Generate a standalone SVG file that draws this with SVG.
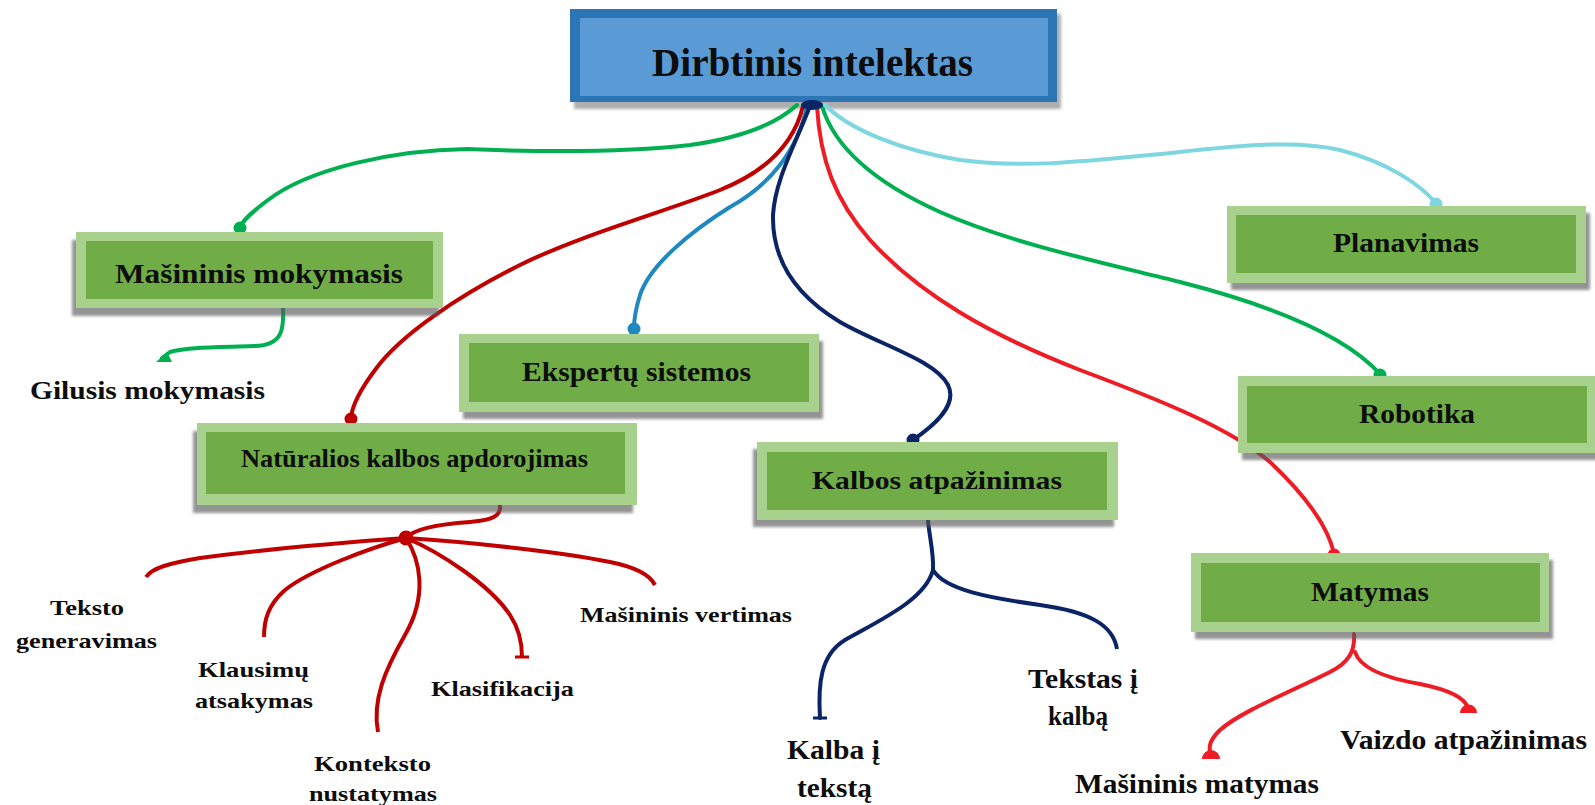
<svg xmlns="http://www.w3.org/2000/svg" width="1595" height="805" viewBox="0 0 1595 805">
  <defs>
    <filter id="soft" x="-10%" y="-20%" width="120%" height="150%">
      <feGaussianBlur stdDeviation="1.6"/>
    </filter>
    <style>
      .shadow{fill:#5a5a5a;opacity:.65;filter:url(#soft)}
      .outer{fill:#A9D18E}
      .inner{fill:#70AD47}
      .t{font-family:"Liberation Serif","Times New Roman",serif;font-weight:bold;fill:#0d0d0d;text-anchor:middle}
      .c{fill:none;stroke-width:4;stroke-linecap:round;stroke-linejoin:round}
      .sub{fill:none;stroke-width:4;stroke-linecap:butt}
      .green{stroke:#00B050}
      .dred{stroke:#C00000}
      .blue{stroke:#1E88C0}
      .navy{stroke:#0B2466}
      .red{stroke:#EE1C25}
      .cyan{stroke:#7DD6E0}
    </style>
  </defs>

  <rect width="1595" height="805" fill="#ffffff"/>

  <!-- root box comes first: the connectors leave from its lower edge -->
  <g id="root">
    <rect x="574" y="14" width="487" height="95" fill="#6d6d6d" opacity=".55" filter="url(#soft)"/>
    <rect x="570" y="9" width="487" height="93" fill="#2E75B6"/>
    <rect x="580" y="18" width="468" height="78" fill="#5B9BD5"/>
    <text class="t" x="812.5" y="76" font-size="40" textLength="321" lengthAdjust="spacingAndGlyphs">Dirbtinis intelektas</text>
  </g>

  <!-- connectors (under the topic boxes so their end dots are half covered) -->
  <g id="connectors">
    <!-- root to first-level topics -->
    <path class="c green" d="M797,105 C775,125 740,138 690,145 C620,153 540,152 467,149 C395,150 310,168 268,200 C252,212 244,219 240,227"/>
    <path class="c dred" d="M803,106 C795,140 770,170 720,190 C670,210 580,235 520,265 C460,295 400,335 375,370 C360,390 352,405 351,418"/>
    <path class="c blue" d="M807,106 C798,150 770,185 730,207 C690,232 650,265 640,295 C636,308 634,318 634,328"/>
    <path class="c navy" d="M810,106 C795,145 775,180 773,215 C772,260 795,295 840,322 C880,345 935,360 948,385 C958,405 935,425 913,440"/>
    <path class="c red" d="M817,106 C820,160 835,200 870,240 C920,295 990,335 1080,370 C1160,400 1230,428 1270,462 C1305,495 1328,525 1334,554"/>
    <path class="c green" d="M822,106 C835,150 880,185 940,212 C1010,243 1100,262 1180,282 C1270,305 1345,335 1380,374"/>
    <path class="c cyan" d="M825,105 C850,130 900,150 960,160 C1020,168 1080,162 1150,155 C1220,148 1290,138 1340,150 C1390,163 1420,185 1436,203"/>
    <ellipse cx="812" cy="105" rx="11" ry="5" fill="#0B2466"/>

    <!-- end dots on the node tops -->
    <circle cx="240" cy="228" r="6.5" fill="#00B050"/>
    <circle cx="351" cy="419" r="6.5" fill="#C00000"/>
    <circle cx="634" cy="329" r="6.5" fill="#1E88C0"/>
    <circle cx="913" cy="440" r="6.5" fill="#0B2466"/>
    <circle cx="1380" cy="375" r="6.5" fill="#00B050"/>
    <circle cx="1436" cy="204" r="6.5" fill="#7DD6E0"/>
    <circle cx="1334" cy="555" r="6.5" fill="#EE1C25"/>

    <!-- Mašininis mokymasis -> Gilusis mokymasis -->
    <path class="c green" d="M283,309 C284,330 282,345 255,346 C220,347 185,347 170,352 L162,358"/>
    <polygon points="156,362 172,362 167,352" fill="#00B050"/>

    <!-- Natūralios kalbos apdorojimas branches -->
    <path class="c dred" d="M500,505 C501,515 495,520 470,522 C440,524 415,528 406,538"/>
    <circle cx="406" cy="538" r="7.5" fill="#C00000"/>
    <path class="sub dred" d="M406,538 C350,542 260,550 200,558 C170,563 152,568 146,577"/>
    <path class="sub dred" d="M406,538 C370,548 310,570 285,590 C268,605 264,620 264,637"/>
    <path class="sub dred" d="M406,538 C420,560 428,595 405,635 C385,670 372,700 378,732"/>
    <path class="sub dred" d="M406,538 C440,552 490,585 510,615 C520,630 522,645 522,657"/>
    <line x1="515" y1="657" x2="529" y2="657" stroke="#C00000" stroke-width="3"/>
    <path class="sub dred" d="M406,538 C470,542 560,552 610,562 C635,567 650,575 655,585"/>

    <!-- Kalbos atpažinimas branches -->
    <path class="c navy" d="M928,521 C930,540 934,555 933,570 C925,600 880,620 845,640 C820,655 818,685 820,718"/>
    <line x1="813" y1="718" x2="827" y2="718" stroke="#0B2466" stroke-width="3"/>
    <path class="sub navy" d="M933,570 C945,590 990,598 1040,605 C1090,612 1113,625 1117,649"/>

    <!-- Matymas branches -->
    <path class="c red" d="M1354,634 C1355,650 1350,662 1330,672 C1290,692 1240,712 1220,730 C1210,740 1209,745 1210,752"/>
    <path d="M1202,759 A9,9 0 0 1 1220,759 Z" fill="#EE1C25"/>
    <path class="c red" d="M1355,652 C1360,668 1385,678 1420,684 C1450,690 1465,698 1468,708"/>
    <path d="M1460,713 A8.5,8.5 0 0 1 1477,713 Z" fill="#EE1C25"/>
  </g>

  <g id="masininis-mokymasis">
    <rect class="shadow" x="72" y="240" width="367" height="76"/>
    <rect class="outer" x="76" y="232" width="367" height="76"/>
    <rect class="inner" x="86" y="241" width="347" height="58"/>
    <text class="t" x="259" y="283" font-size="27" textLength="288" lengthAdjust="spacingAndGlyphs">Mašininis mokymasis</text>
  </g>

  <g id="ekspertu-sistemos">
    <rect class="shadow" x="463" y="341" width="360" height="78"/>
    <rect class="outer" x="459" y="334" width="360" height="78"/>
    <rect class="inner" x="469" y="343" width="340" height="59"/>
    <text class="t" x="636.5" y="381" font-size="27" textLength="229" lengthAdjust="spacingAndGlyphs">Ekspertų sistemos</text>
  </g>

  <g id="naturalios-kalbos-apdorojimas">
    <rect class="shadow" x="193" y="431" width="440" height="82"/>
    <rect class="outer" x="197" y="423" width="440" height="82"/>
    <rect class="inner" x="206" y="432" width="419" height="62"/>
    <text class="t" x="414.5" y="467" font-size="25" textLength="347" lengthAdjust="spacingAndGlyphs">Natūralios kalbos apdorojimas</text>
  </g>

  <g id="kalbos-atpazinimas">
    <rect class="shadow" x="753" y="449" width="361" height="78"/>
    <rect class="outer" x="757" y="442" width="361" height="78"/>
    <rect class="inner" x="767" y="452" width="340" height="58"/>
    <text class="t" x="937" y="489" font-size="26" textLength="250" lengthAdjust="spacingAndGlyphs">Kalbos atpažinimas</text>
  </g>

  <g id="planavimas">
    <rect class="shadow" x="1231" y="213" width="359" height="77"/>
    <rect class="outer" x="1227" y="206" width="359" height="77"/>
    <rect class="inner" x="1236" y="215" width="340" height="58"/>
    <text class="t" x="1406" y="252" font-size="27" textLength="146" lengthAdjust="spacingAndGlyphs">Planavimas</text>
  </g>

  <g id="robotika">
    <rect class="shadow" x="1242" y="383" width="357" height="77"/>
    <rect class="outer" x="1238" y="376" width="357" height="77"/>
    <rect class="inner" x="1247" y="386" width="340" height="57"/>
    <text class="t" x="1417" y="423" font-size="28" textLength="116" lengthAdjust="spacingAndGlyphs">Robotika</text>
  </g>

  <g id="matymas">
    <rect class="shadow" x="1195" y="560" width="358" height="79"/>
    <rect class="outer" x="1191" y="553" width="358" height="79"/>
    <rect class="inner" x="1201" y="563" width="339" height="59"/>
    <text class="t" x="1370" y="601" font-size="27" textLength="118" lengthAdjust="spacingAndGlyphs">Matymas</text>
  </g>

  <!-- leaf labels -->
  <g id="gilusis-mokymasis">
    <text class="t" x="147.5" y="399" font-size="26" textLength="235" lengthAdjust="spacingAndGlyphs">Gilusis mokymasis</text>
  </g>
  <g id="teksto-generavimas">
    <text class="t" x="87" y="615" font-size="22" textLength="74" lengthAdjust="spacingAndGlyphs">Teksto</text>
    <text class="t" x="86.5" y="648" font-size="22" textLength="141" lengthAdjust="spacingAndGlyphs">generavimas</text>
  </g>
  <g id="klausimu-atsakymas">
    <text class="t" x="253.5" y="677" font-size="22" textLength="111" lengthAdjust="spacingAndGlyphs">Klausimų</text>
    <text class="t" x="254" y="708" font-size="22" textLength="118" lengthAdjust="spacingAndGlyphs">atsakymas</text>
  </g>
  <g id="konteksto-nustatymas">
    <text class="t" x="372.5" y="771" font-size="22" textLength="117" lengthAdjust="spacingAndGlyphs">Konteksto</text>
    <text class="t" x="373" y="801" font-size="22" textLength="128" lengthAdjust="spacingAndGlyphs">nustatymas</text>
  </g>
  <g id="klasifikacija">
    <text class="t" x="502.5" y="696" font-size="22" textLength="143" lengthAdjust="spacingAndGlyphs">Klasifikacija</text>
  </g>
  <g id="masininis-vertimas">
    <text class="t" x="686" y="622" font-size="22" textLength="212" lengthAdjust="spacingAndGlyphs">Mašininis vertimas</text>
  </g>
  <g id="kalba-i-teksta">
    <text class="t" x="833.5" y="759" font-size="27" textLength="93" lengthAdjust="spacingAndGlyphs">Kalba į</text>
    <text class="t" x="834.5" y="797" font-size="27" textLength="75" lengthAdjust="spacingAndGlyphs">tekstą</text>
  </g>
  <g id="tekstas-i-kalba">
    <text class="t" x="1083" y="688" font-size="27" textLength="110" lengthAdjust="spacingAndGlyphs">Tekstas į</text>
    <text class="t" x="1078" y="725" font-size="27" textLength="60" lengthAdjust="spacingAndGlyphs">kalbą</text>
  </g>
  <g id="vaizdo-atpazinimas">
    <text class="t" x="1463.5" y="749" font-size="28" textLength="247" lengthAdjust="spacingAndGlyphs">Vaizdo atpažinimas</text>
  </g>
  <g id="masininis-matymas">
    <text class="t" x="1197" y="793" font-size="28" textLength="244" lengthAdjust="spacingAndGlyphs">Mašininis matymas</text>
  </g>
</svg>
